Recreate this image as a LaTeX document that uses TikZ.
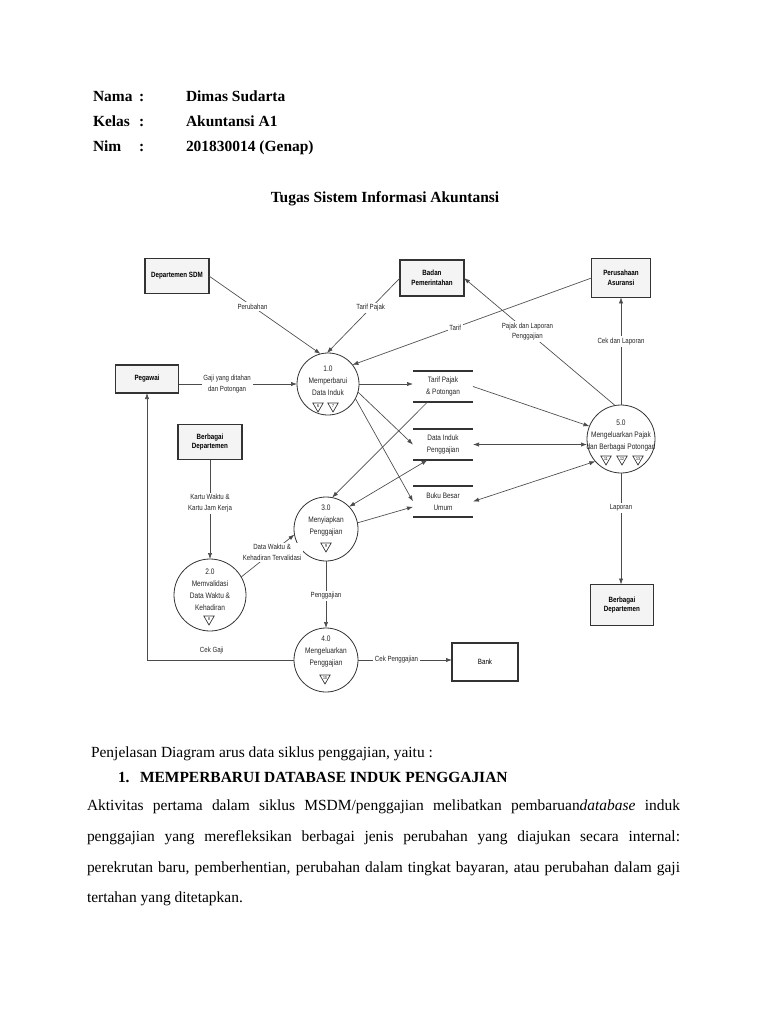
\documentclass[tikz,border=0pt]{standalone}
\usepackage{fontspec}
\setmainfont{Liberation Serif}
\newfontfamily\dfd[FakeStretch=0.82]{Liberation Sans}
\usetikzlibrary{arrows.meta,shapes.geometric}
\begin{document}
\begin{tikzpicture}[x=0.75pt,y=-0.75pt,
 every node/.style={inner sep=0pt,outer sep=0pt},
 hdr/.style={anchor=base west,font=\fontsize{11.6}{14}\selectfont\bfseries},
 body/.style={anchor=base west,font=\fontsize{11.6}{14}\selectfont},
 ent/.style={draw=black!80,line width=0.9pt,fill=gray!9,align=center,font=\dfd\fontsize{5.7}{7.4}\selectfont\bfseries},
 proc/.style={circle,draw=black!80,line width=0.6pt},
 ptxt/.style={align=center,font=\dfd\fontsize{6}{9}\selectfont,text=black!85},
 store/.style={align=center,font=\dfd\fontsize{5.9}{9}\selectfont,text=black!85,minimum width=45pt,minimum height=23.25pt},
 sline/.style={draw=black!80,line width=0.8pt},
 threat/.style={draw=black!80,line width=0.5pt,regular polygon,regular polygon sides=3,shape border rotate=180,minimum size=9pt,font=\dfd\fontsize{3.2}{3.5}\selectfont},
 flow/.style={draw=black!70,line width=0.5pt,-{Latex[length=4.5pt,width=3.2pt]}},
 bflow/.style={draw=black!70,line width=0.5pt,{Latex[length=4.5pt,width=3.2pt]}-{Latex[length=4.5pt,width=3.2pt]}},
 lbl/.style={fill=white,inner sep=1.2pt,align=center,font=\dfd\fontsize{5.6}{8.2}\selectfont,text=black!85},
]
\fill[white] (0,0) rectangle (768,1024);
\useasboundingbox (0,0) rectangle (768,1024);

% ---------- header ----------
\node[hdr] (h1a) at (93,101) {Nama};
\node[hdr] (h1b) at (139,101) {:};
\node[hdr] (h1c) at (186,101) {Dimas Sudarta};
\node[hdr] (h2a) at (93,126) {Kelas};
\node[hdr] (h2b) at (139,126) {:};
\node[hdr] (h2c) at (186,126) {Akuntansi A1};
\node[hdr] (h3a) at (93,151) {Nim};
\node[hdr] (h3b) at (139,151) {:};
\node[hdr] (h3c) at (186,151) {201830014 (Genap)};
\node[hdr,anchor=base] (title) at (385,202) {Tugas Sistem Informasi Akuntansi};

% ---------- external entities ----------
\node[ent,minimum width=48pt,minimum height=26.25pt] (sdm) at (177,276) {Departemen SDM};
\node[ent,minimum width=48pt,minimum height=27pt] (badan) at (432,278) {Badan\\Pemerintahan};
\node[ent,minimum width=44.25pt,minimum height=29pt] (asuransi) at (621,278) {Perusahaan\\Asuransi};
\node[ent,minimum width=47.25pt,minimum height=21pt] (pegawai) at (147,379) {Pegawai};
\node[ent,minimum width=48pt,minimum height=26.25pt] (dept1) at (210,442) {Berbagai\\Departemen};
\node[ent,minimum width=47.25pt,minimum height=30.75pt] (dept2) at (622,605) {Berbagai\\Departemen};
\node[ent,fill=white,font=\dfd\fontsize{5.7}{7.4}\selectfont,minimum width=49.5pt,minimum height=28.5pt] (bank) at (485,662) {Bank};

% ---------- processes ----------
\node[proc,minimum size=46.5pt] (p1) at (328,384) {};
\node[proc,minimum size=54pt] (p2) at (210,595) {};
\node[proc,minimum size=48pt] (p3) at (326,529) {};
\node[proc,minimum size=48pt] (p4) at (326,660) {};
\node[proc,minimum size=51pt] (p5) at (621,439) {};

\node[ptxt] (p1t) at (328,381) {1.0\\Memperbarui\\Data Induk};
\node[ptxt] (p2t) at (210,590) {2.0\\Memvalidasi\\Data Waktu \&\\Kehadiran};
\node[ptxt] (p3t) at (326,521) {3.0\\Menyiapkan\\Penggajian};
\node[ptxt] (p4t) at (326,652) {4.0\\Mengeluarkan\\Penggajian};
\node[ptxt] (p5t) at (621,436) {5.0\\Mengeluarkan Pajak\\dan Berbagai Potongan};

\node[threat] (t1a) at (318,406) {6};
\node[threat] (t1b) at (333,406) {7};
\node[threat] (t2) at (209,619) {8};
\node[threat] (t3) at (326,546) {9};
\node[threat] (t4) at (325,678) {10};
\node[threat] (t5a) at (606,459) {11};
\node[threat] (t5b) at (622,459) {12};
\node[threat] (t5c) at (638,459) {13};

% ---------- data stores ----------
\node[store] (s1) at (443,386.5) {Tarif Pajak\\\& Potongan};
\node[store] (s2) at (443,444.5) {Data Induk\\Penggajian};
\node[store] (s3) at (443,501.5) {Buku Besar\\Umum};
\foreach \s in {s1,s2,s3}{
  \draw[sline] (\s.north west) -- (\s.north east) (\s.south west) -- (\s.south east);
}

% ---------- flows ----------
\draw[flow] (sdm.east) -- node[lbl,pos=0.39] (l1) {Perubahan} (p1.104);
\draw[flow] (badan.west) -- node[lbl,pos=0.40] (l2) {Tarif Pajak} (p1.92);
\draw[flow] (asuransi.west) -- node[lbl,pos=0.57] (l3) {Tarif} (p1.38);
\draw[flow] (p5.100) -- node[lbl,pos=0.58] (l4) {Pajak dan Laporan\\Penggajian} (badan.east);
\draw[flow] (p5.north) -- node[lbl,pos=0.59] (l5) {Cek dan Laporan} (asuransi.south);
\draw[flow] (pegawai.east |- p1.west) -- node[lbl,pos=0.41] (l6) {Gaji yang ditahan\\dan Potongan} (p1.west);
\draw[flow] (p1.east) -- (p1.east -| s1.west);
\draw[flow] (p1.-15) -- (s2.west);
\draw[flow] (p1.-28) -- (s3.west);
\draw[flow] (s1.-135) -- (p3.79);
\draw[bflow] (s2.-135) -- (p3.44);
\draw[flow] (p3.11) -- (s3.190);
\draw[flow] (s1.east) -- (p5.158);
\draw[bflow] (s2.east) -- (s2.east -| p5.west);
\draw[bflow] (s3.east) -- (p5.-139);
\draw[flow] (dept1.south) -- node[lbl,pos=0.44] (l7) {Kartu Waktu \&\\Kartu Jam Kerja} (p2.north);
\draw[flow] (p2.30) -- node[lbl,pos=0.58] (l8) {Data Waktu \&\\Kehadiran Tervalidasi} (p3.190);
\draw[flow] (p3.south) -- node[lbl,pos=0.52] (l9) {Penggajian} (p4.north);
\draw[flow] (p4.east) -- node[lbl,pos=0.41] (l10) {Cek Penggajian} (p4.east -| bank.west);
\draw[flow] (p5.south) -- node[lbl,pos=0.31] (l11) {Laporan} (p5.south |- dept2.north);
\draw[flow] (p4.west) -- node[lbl,fill=none,pos=0.56,anchor=south,yshift=3pt] (l12) {Cek Gaji} (p4.west -| pegawai.south) -- (pegawai.south);

% ---------- body text ----------
\node[body] (b1) at (91,757) {Penjelasan Diagram arus data siklus penggajian, yaitu :};
\node[hdr] (b2a) at (118,782) {1.};
\node[hdr] (b2b) at (140,782) {MEMPERBARUI DATABASE INDUK PENGGAJIAN};
\node[body] (b3) at (87,810) {\makebox[444.75pt][s]{Aktivitas pertama dalam siklus MSDM/penggajian melibatkan pembaruan\textit{database} induk}};
\node[body] (b4) at (87,841) {\makebox[444.75pt][s]{penggajian yang merefleksikan berbagai jenis perubahan yang diajukan secara internal:}};
\node[body] (b5) at (87,872) {\makebox[444.75pt][s]{perekrutan baru, pemberhentian, perubahan dalam tingkat bayaran, atau perubahan dalam gaji}};
\node[body] (b6) at (87,902) {tertahan yang ditetapkan.};
\end{tikzpicture}
\end{document}
